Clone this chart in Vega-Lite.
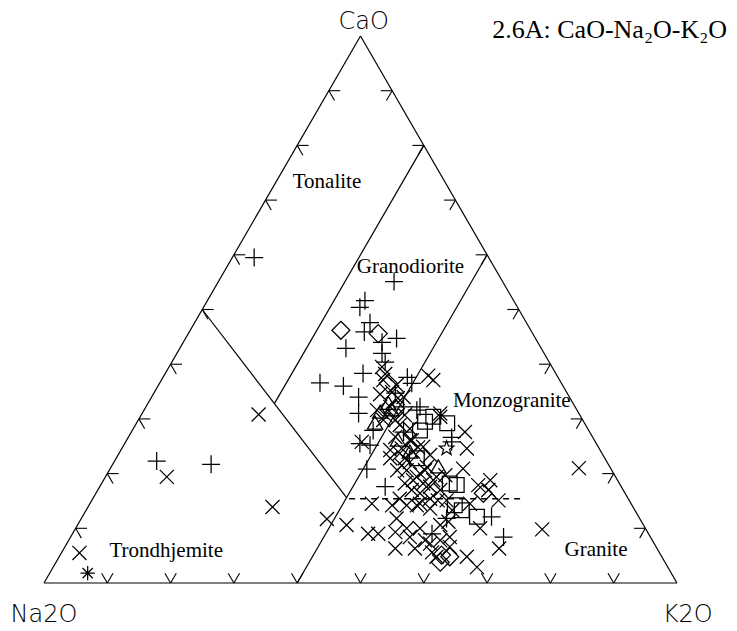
{
  "$schema": "https://vega.github.io/schema/vega-lite/v6.json",
  "width": 633,
  "height": 547,
  "autosize": "none",
  "padding": {"left": 44, "top": 36, "right": 60, "bottom": 48},
  "background": "white",
  "config": {"view": {"stroke": null}},
  "datasets": {
    "edges": [
      {"x": 0, "y": 0, "x2": 100, "y2": 0},
      {"x": 0, "y": 0, "x2": 50, "y2": 100},
      {"x": 100, "y": 0, "x2": 50, "y2": 100},
      {"x": 25, "y": 50, "x2": 47.8, "y2": 15.6},
      {"x": 60, "y": 80, "x2": 36.4, "y2": 32.8},
      {"x": 70, "y": 60, "x2": 40, "y2": 0}
    ],
    "dashed": [
      {"x": 48.2, "y": 15.4, "x2": 75.3, "y2": 15.4}
    ],
    "ticks": [
      {"x": 5, "y": 10, "x2": 6.8, "y2": 10}, {"x": 5, "y": 10, "x2": 5.9, "y2": 8.2},
      {"x": 10, "y": 20, "x2": 11.8, "y2": 20}, {"x": 10, "y": 20, "x2": 10.9, "y2": 18.2},
      {"x": 15, "y": 30, "x2": 16.8, "y2": 30}, {"x": 15, "y": 30, "x2": 15.9, "y2": 28.2},
      {"x": 20, "y": 40, "x2": 21.8, "y2": 40}, {"x": 20, "y": 40, "x2": 20.9, "y2": 38.2},
      {"x": 25, "y": 50, "x2": 26.8, "y2": 50}, {"x": 25, "y": 50, "x2": 25.9, "y2": 48.2},
      {"x": 30, "y": 60, "x2": 31.8, "y2": 60}, {"x": 30, "y": 60, "x2": 30.9, "y2": 58.2},
      {"x": 35, "y": 70, "x2": 36.8, "y2": 70}, {"x": 35, "y": 70, "x2": 35.9, "y2": 68.2},
      {"x": 40, "y": 80, "x2": 41.8, "y2": 80}, {"x": 40, "y": 80, "x2": 40.9, "y2": 78.2},
      {"x": 45, "y": 90, "x2": 46.8, "y2": 90}, {"x": 45, "y": 90, "x2": 45.9, "y2": 88.2},
      {"x": 95, "y": 10, "x2": 93.2, "y2": 10}, {"x": 95, "y": 10, "x2": 94.1, "y2": 8.2},
      {"x": 90, "y": 20, "x2": 88.2, "y2": 20}, {"x": 90, "y": 20, "x2": 89.1, "y2": 18.2},
      {"x": 85, "y": 30, "x2": 83.2, "y2": 30}, {"x": 85, "y": 30, "x2": 84.1, "y2": 28.2},
      {"x": 80, "y": 40, "x2": 78.2, "y2": 40}, {"x": 80, "y": 40, "x2": 79.1, "y2": 38.2},
      {"x": 75, "y": 50, "x2": 73.2, "y2": 50}, {"x": 75, "y": 50, "x2": 74.1, "y2": 48.2},
      {"x": 70, "y": 60, "x2": 68.2, "y2": 60}, {"x": 70, "y": 60, "x2": 69.1, "y2": 58.2},
      {"x": 65, "y": 70, "x2": 63.2, "y2": 70}, {"x": 65, "y": 70, "x2": 64.1, "y2": 68.2},
      {"x": 60, "y": 80, "x2": 58.2, "y2": 80}, {"x": 60, "y": 80, "x2": 59.1, "y2": 78.2},
      {"x": 55, "y": 90, "x2": 53.2, "y2": 90}, {"x": 55, "y": 90, "x2": 54.1, "y2": 88.2},
      {"x": 10, "y": 0, "x2": 9.1, "y2": 1.8}, {"x": 10, "y": 0, "x2": 10.9, "y2": 1.8},
      {"x": 20, "y": 0, "x2": 19.1, "y2": 1.8}, {"x": 20, "y": 0, "x2": 20.9, "y2": 1.8},
      {"x": 30, "y": 0, "x2": 29.1, "y2": 1.8}, {"x": 30, "y": 0, "x2": 30.9, "y2": 1.8},
      {"x": 40, "y": 0, "x2": 39.1, "y2": 1.8}, {"x": 40, "y": 0, "x2": 40.9, "y2": 1.8},
      {"x": 50, "y": 0, "x2": 49.1, "y2": 1.8}, {"x": 50, "y": 0, "x2": 50.9, "y2": 1.8},
      {"x": 60, "y": 0, "x2": 59.1, "y2": 1.8}, {"x": 60, "y": 0, "x2": 60.9, "y2": 1.8},
      {"x": 70, "y": 0, "x2": 69.1, "y2": 1.8}, {"x": 70, "y": 0, "x2": 70.9, "y2": 1.8},
      {"x": 80, "y": 0, "x2": 79.1, "y2": 1.8}, {"x": 80, "y": 0, "x2": 80.9, "y2": 1.8},
      {"x": 90, "y": 0, "x2": 89.1, "y2": 1.8}, {"x": 90, "y": 0, "x2": 90.9, "y2": 1.8}
    ],
    "samples": [
      {"sym": "plus", "xt": 33.2, "CaO": 59.5},
      {"sym": "plus", "xt": 17.8, "CaO": 22.3},
      {"sym": "cross", "xt": 19.4, "CaO": 19.4},
      {"sym": "plus", "xt": 26.4, "CaO": 21.7},
      {"sym": "cross", "xt": 33.9, "CaO": 30.8},
      {"sym": "cross", "xt": 36.1, "CaO": 13.9},
      {"sym": "cross", "xt": 5.6, "CaO": 5.5},
      {"sym": "asterisk", "xt": 6.9, "CaO": 1.8},
      {"sym": "cross", "xt": 44.7, "CaO": 11.7},
      {"sym": "cross", "xt": 47.8, "CaO": 10.6},
      {"sym": "cross", "xt": 84.5, "CaO": 21.0},
      {"sym": "cross", "xt": 78.7, "CaO": 9.8},
      {"sym": "plus", "xt": 72.6, "CaO": 8.4},
      {"sym": "cross", "xt": 71.9, "CaO": 6.3},
      {"sym": "plus", "xt": 55.3, "CaO": 55.1},
      {"sym": "plus", "xt": 50.7, "CaO": 51.6},
      {"sym": "plus", "xt": 49.9, "CaO": 50.4},
      {"sym": "plus", "xt": 51.5, "CaO": 47.6},
      {"sym": "plus", "xt": 50.6, "CaO": 45.9},
      {"sym": "diamond", "xt": 46.9, "CaO": 46.2},
      {"sym": "diamond", "xt": 52.8, "CaO": 45.6},
      {"sym": "plus", "xt": 55.7, "CaO": 44.7},
      {"sym": "plus", "xt": 47.7, "CaO": 42.9},
      {"sym": "plus", "xt": 53.4, "CaO": 44.0},
      {"sym": "plus", "xt": 53.4, "CaO": 42.0},
      {"sym": "plus", "xt": 53.9, "CaO": 40.4},
      {"sym": "cross", "xt": 53.4, "CaO": 39.5},
      {"sym": "plus", "xt": 50.4, "CaO": 38.3},
      {"sym": "plus", "xt": 43.6, "CaO": 36.6},
      {"sym": "plus", "xt": 47.3, "CaO": 36.0},
      {"sym": "plus", "xt": 57.4, "CaO": 37.6},
      {"sym": "plus", "xt": 58.1, "CaO": 36.5},
      {"sym": "cross", "xt": 60.7, "CaO": 37.9},
      {"sym": "cross", "xt": 61.5, "CaO": 37.1},
      {"sym": "diamond", "xt": 54.4, "CaO": 36.5},
      {"sym": "cross", "xt": 53.6, "CaO": 37.1},
      {"sym": "plus", "xt": 49.7, "CaO": 34.0},
      {"sym": "cross", "xt": 53.1, "CaO": 34.5},
      {"sym": "plus", "xt": 56.8, "CaO": 32.2},
      {"sym": "triangle", "xt": 54.4, "CaO": 32.8},
      {"sym": "plus", "xt": 49.7, "CaO": 31.0},
      {"sym": "cross", "xt": 62.6, "CaO": 31.0},
      {"sym": "plus", "xt": 59.4, "CaO": 32.2},
      {"sym": "square", "xt": 61.5, "CaO": 30.4},
      {"sym": "square", "xt": 60.2, "CaO": 29.5},
      {"sym": "cross", "xt": 56.8, "CaO": 34.0},
      {"sym": "cross", "xt": 54.7, "CaO": 32.2},
      {"sym": "cross", "xt": 53.6, "CaO": 29.8},
      {"sym": "cross", "xt": 56.2, "CaO": 28.9},
      {"sym": "cross", "xt": 57.8, "CaO": 28.2},
      {"sym": "plus", "xt": 56.8, "CaO": 27.6},
      {"sym": "cross", "xt": 66.5, "CaO": 27.6},
      {"sym": "plus", "xt": 64.4, "CaO": 25.8},
      {"sym": "star", "xt": 63.6, "CaO": 24.6},
      {"sym": "cross", "xt": 66.8, "CaO": 24.6},
      {"sym": "cross", "xt": 54.7, "CaO": 24.3},
      {"sym": "cross", "xt": 56.2, "CaO": 23.7},
      {"sym": "cross", "xt": 58.3, "CaO": 24.0},
      {"sym": "cross", "xt": 59.9, "CaO": 24.9},
      {"sym": "square", "xt": 58.9, "CaO": 22.8},
      {"sym": "cross", "xt": 61.0, "CaO": 23.4},
      {"sym": "triangle", "xt": 62.3, "CaO": 21.2},
      {"sym": "cross", "xt": 60.5, "CaO": 21.2},
      {"sym": "cross", "xt": 66.2, "CaO": 20.9},
      {"sym": "cross", "xt": 57.3, "CaO": 20.6},
      {"sym": "cross", "xt": 58.9, "CaO": 19.4},
      {"sym": "square", "xt": 64.1, "CaO": 18.2},
      {"sym": "square", "xt": 65.2, "CaO": 17.9},
      {"sym": "cross", "xt": 59.9, "CaO": 18.2},
      {"sym": "cross", "xt": 61.5, "CaO": 18.8},
      {"sym": "cross", "xt": 68.6, "CaO": 17.9},
      {"sym": "cross", "xt": 70.5, "CaO": 18.8},
      {"sym": "cross", "xt": 56.2, "CaO": 15.4},
      {"sym": "cross", "xt": 59.4, "CaO": 14.5},
      {"sym": "cross", "xt": 61.0, "CaO": 15.4},
      {"sym": "cross", "xt": 63.6, "CaO": 15.1},
      {"sym": "plus", "xt": 53.9, "CaO": 17.6},
      {"sym": "cross", "xt": 67.3, "CaO": 14.5},
      {"sym": "plus", "xt": 51.0, "CaO": 20.8},
      {"sym": "cross", "xt": 51.8, "CaO": 14.5},
      {"sym": "cross", "xt": 56.5, "CaO": 24.6},
      {"sym": "cross", "xt": 54.7, "CaO": 22.8},
      {"sym": "cross", "xt": 56.5, "CaO": 21.5},
      {"sym": "cross", "xt": 59.4, "CaO": 20.0},
      {"sym": "cross", "xt": 61.0, "CaO": 17.6},
      {"sym": "cross", "xt": 62.0, "CaO": 19.4},
      {"sym": "cross", "xt": 58.3, "CaO": 18.8},
      {"sym": "cross", "xt": 59.4, "CaO": 16.4},
      {"sym": "cross", "xt": 57.3, "CaO": 14.2},
      {"sym": "cross", "xt": 58.9, "CaO": 14.2},
      {"sym": "cross", "xt": 61.0, "CaO": 13.6},
      {"sym": "square", "xt": 64.9, "CaO": 14.2},
      {"sym": "square", "xt": 66.0, "CaO": 13.3},
      {"sym": "square", "xt": 68.4, "CaO": 12.1},
      {"sym": "plus", "xt": 70.7, "CaO": 12.1},
      {"sym": "plus", "xt": 63.6, "CaO": 11.8},
      {"sym": "cross", "xt": 55.7, "CaO": 11.8},
      {"sym": "cross", "xt": 55.5, "CaO": 9.3},
      {"sym": "cross", "xt": 51.2, "CaO": 9.0},
      {"sym": "cross", "xt": 52.8, "CaO": 9.0},
      {"sym": "cross", "xt": 57.8, "CaO": 8.4},
      {"sym": "cross", "xt": 59.4, "CaO": 10.0},
      {"sym": "plus", "xt": 61.3, "CaO": 9.0},
      {"sym": "cross", "xt": 57.3, "CaO": 10.0},
      {"sym": "cross", "xt": 63.9, "CaO": 11.2},
      {"sym": "cross", "xt": 64.1, "CaO": 8.4},
      {"sym": "cross", "xt": 62.6, "CaO": 7.8},
      {"sym": "cross", "xt": 61.0, "CaO": 7.2},
      {"sym": "cross", "xt": 55.5, "CaO": 6.3},
      {"sym": "cross", "xt": 64.1, "CaO": 6.6},
      {"sym": "diamond", "xt": 62.8, "CaO": 5.1},
      {"sym": "diamond", "xt": 62.6, "CaO": 3.8},
      {"sym": "diamond", "xt": 64.1, "CaO": 4.8},
      {"sym": "cross", "xt": 66.8, "CaO": 4.8},
      {"sym": "cross", "xt": 68.4, "CaO": 2.9},
      {"sym": "cross", "xt": 68.9, "CaO": 10.0},
      {"sym": "cross", "xt": 70.2, "CaO": 17.0},
      {"sym": "cross", "xt": 71.8, "CaO": 15.1},
      {"sym": "diamond", "xt": 69.4, "CaO": 16.4},
      {"sym": "cross", "xt": 62.0, "CaO": 4.8},
      {"sym": "cross", "xt": 50.2, "CaO": 25.8},
      {"sym": "plus", "xt": 49.9, "CaO": 25.5},
      {"sym": "plus", "xt": 51.5, "CaO": 25.2},
      {"sym": "cross", "xt": 52.6, "CaO": 31.6},
      {"sym": "triangle", "xt": 52.3, "CaO": 29.2},
      {"sym": "cross", "xt": 53.9, "CaO": 30.7},
      {"sym": "cross", "xt": 53.9, "CaO": 38.2},
      {"sym": "triangle", "xt": 54.9, "CaO": 31.6},
      {"sym": "cross", "xt": 55.9, "CaO": 33.8},
      {"sym": "plus", "xt": 58.9, "CaO": 31.6},
      {"sym": "cross", "xt": 62.6, "CaO": 30.4},
      {"sym": "cross", "xt": 55.7, "CaO": 36.2},
      {"sym": "cross", "xt": 57.8, "CaO": 26.1},
      {"sym": "cross", "xt": 55.5, "CaO": 26.7},
      {"sym": "cross", "xt": 55.0, "CaO": 34.9},
      {"sym": "cross", "xt": 55.5, "CaO": 29.8},
      {"sym": "cross", "xt": 57.0, "CaO": 30.7},
      {"sym": "cross", "xt": 58.1, "CaO": 26.1},
      {"sym": "cross", "xt": 59.1, "CaO": 24.8},
      {"sym": "cross", "xt": 57.0, "CaO": 22.8},
      {"sym": "cross", "xt": 57.8, "CaO": 22.1},
      {"sym": "cross", "xt": 55.8, "CaO": 20.6},
      {"sym": "cross", "xt": 60.2, "CaO": 20.6},
      {"sym": "cross", "xt": 62.6, "CaO": 17.0},
      {"sym": "cross", "xt": 63.4, "CaO": 19.7},
      {"sym": "cross", "xt": 58.1, "CaO": 17.0},
      {"sym": "cross", "xt": 57.0, "CaO": 18.2},
      {"sym": "cross", "xt": 55.0, "CaO": 14.2},
      {"sym": "cross", "xt": 62.2, "CaO": 15.1},
      {"sym": "cross", "xt": 64.5, "CaO": 13.3},
      {"sym": "cross", "xt": 62.6, "CaO": 10.6},
      {"sym": "cross", "xt": 60.2, "CaO": 7.8},
      {"sym": "cross", "xt": 58.6, "CaO": 6.3},
      {"sym": "cross", "xt": 61.3, "CaO": 5.6},
      {"sym": "triangle", "xt": 53.1, "CaO": 31.2},
      {"sym": "triangle", "xt": 55.9, "CaO": 26.1},
      {"sym": "triangle", "xt": 57.8, "CaO": 23.9},
      {"sym": "square", "xt": 59.4, "CaO": 27.9},
      {"sym": "square", "xt": 63.7, "CaO": 29.2},
      {"sym": "diamond", "xt": 55.5, "CaO": 31.9},
      {"sym": "plus", "xt": 55.5, "CaO": 34.7},
      {"sym": "plus", "xt": 52.0, "CaO": 27.9},
      {"sym": "plus", "xt": 64.4, "CaO": 26.6}
    ],
    "fields": [
      {"name": "Tonalite", "xt": 44.7, "CaO": 72.3},
      {"name": "Granodiorite", "xt": 57.9, "CaO": 56.6},
      {"name": "Monzogranite", "xt": 73.9, "CaO": 32.2},
      {"name": "Trondhjemite", "xt": 19.3, "CaO": 4.8},
      {"name": "Granite", "xt": 87.2, "CaO": 4.9}
    ],
    "apices": [
      {"name": "CaO", "xt": 50.5, "CaO": 101.2},
      {"name": "Na2O", "xt": 0, "CaO": -7.1},
      {"name": "K2O", "xt": 101.7, "CaO": -7.1}
    ],
    "heading": [
      {"name": "2.6A: CaO-Na₂O-K₂O", "xt": 107.9, "CaO": 99.6}
    ]
  },
  "layer": [
    {
      "data": {"name": "edges"},
      "mark": {"type": "rule", "color": "black", "strokeWidth": 1.2},
      "encoding": {
        "x": {"field": "x", "type": "quantitative", "scale": {"domain": [0, 100], "nice": false, "zero": false}, "axis": null},
        "y": {"field": "y", "type": "quantitative", "scale": {"domain": [0, 100], "nice": false, "zero": false}, "axis": null},
        "x2": {"field": "x2"},
        "y2": {"field": "y2"}
      }
    },
    {
      "data": {"name": "dashed"},
      "mark": {"type": "rule", "color": "black", "strokeWidth": 1.3, "strokeDash": [6, 5]},
      "encoding": {
        "x": {"field": "x", "type": "quantitative"},
        "y": {"field": "y", "type": "quantitative"},
        "x2": {"field": "x2"},
        "y2": {"field": "y2"}
      }
    },
    {
      "data": {"name": "ticks"},
      "mark": {"type": "rule", "color": "black", "strokeWidth": 1.1},
      "encoding": {
        "x": {"field": "x", "type": "quantitative"},
        "y": {"field": "y", "type": "quantitative"},
        "x2": {"field": "x2"},
        "y2": {"field": "y2"}
      }
    },
    {
      "data": {"name": "samples"},
      "mark": {"type": "point", "filled": false, "color": "black", "strokeWidth": 1.25, "size": 324, "opacity": 1},
      "encoding": {
        "x": {"field": "xt", "type": "quantitative"},
        "y": {"field": "CaO", "type": "quantitative"},
        "shape": {
          "field": "sym",
          "type": "nominal",
          "legend": null,
          "scale": {
            "domain": ["plus", "cross", "diamond", "square", "triangle", "star", "asterisk"],
            "range": [
              "M-1,0L1,0M0,-1L0,1",
              "M-0.78,-0.78L0.78,0.78M-0.78,0.78L0.78,-0.78",
              "M0,-1L1,0L0,1L-1,0Z",
              "M-0.82,-0.82L0.82,-0.82L0.82,0.82L-0.82,0.82Z",
              "M0,-0.8L0.85,0.65L-0.85,0.65Z",
              "M0,-0.85L0.206,-0.283L0.808,-0.263L0.333,0.108L0.5,0.688L0,0.35L-0.5,0.688L-0.333,0.108L-0.808,-0.263L-0.206,-0.283Z",
              "M-0.8,0L0.8,0M0,-0.8L0,0.8M-0.57,-0.57L0.57,0.57M-0.57,0.57L0.57,-0.57"
            ]
          }
        }
      }
    },
    {
      "data": {"name": "fields"},
      "mark": {"type": "text", "font": "Liberation Serif", "fontSize": 21, "color": "black", "align": "center", "baseline": "alphabetic"},
      "encoding": {
        "x": {"field": "xt", "type": "quantitative"},
        "y": {"field": "CaO", "type": "quantitative"},
        "text": {"field": "name"}
      }
    },
    {
      "data": {"name": "apices"},
      "mark": {"type": "text", "font": "DejaVu Sans", "fontWeight": 200, "fontSize": 24, "color": "black", "align": "center", "baseline": "alphabetic"},
      "encoding": {
        "x": {"field": "xt", "type": "quantitative"},
        "y": {"field": "CaO", "type": "quantitative"},
        "text": {"field": "name"}
      }
    },
    {
      "data": {"name": "heading"},
      "mark": {"type": "text", "font": "Liberation Serif", "fontSize": 26, "color": "black", "align": "right", "baseline": "alphabetic"},
      "encoding": {
        "x": {"field": "xt", "type": "quantitative"},
        "y": {"field": "CaO", "type": "quantitative"},
        "text": {"field": "name"}
      }
    }
  ]
}
